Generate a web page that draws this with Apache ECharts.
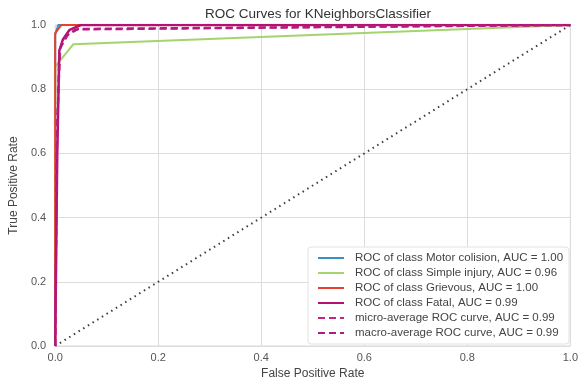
<!DOCTYPE html>
<html>
<head>
<meta charset="utf-8">
<script src="https://cdn.jsdelivr.net/npm/echarts@6/dist/echarts.min.js"></script>
<style>
  html, body { margin: 0; padding: 0; background: #fff; }
  #chart { width: 581px; height: 385px; }
</style>
</head>
<body>
<div id="chart"></div>
<script>
// ROC points as [false positive rate, true positive rate]
const motorCollision = [[0, 0], [0, 0.97], [0.006, 1.0], [1, 1.0]];
const simpleInjury = [[0, 0], [0, 0.87], [0.035, 0.94], [1, 1.0]];
const grievous = [[0, 0], [0, 0.975], [0.012, 1.0], [1, 1.0]];
const fatal = [[0, 0], [0.004, 0.6], [0.008, 0.92], [0.015, 0.955], [0.028, 0.985], [0.05, 1.0], [1, 1.0]];
const microAverage = [[0, 0], [0.004, 0.7], [0.01, 0.93], [0.025, 0.97], [0.045, 0.988], [1, 1.0]];
const macroAverage = [[0, 0], [0.003, 0.6], [0.008, 0.92], [0.02, 0.965], [0.04, 0.986], [1, 1.0]];
const chanceLine = [[0, 0], [1, 1]];

const seriesNames = [
  'ROC of class Motor colision, AUC = 1.00',
  'ROC of class Simple injury, AUC = 0.96',
  'ROC of class Grievous, AUC = 1.00',
  'ROC of class Fatal, AUC = 0.99',
  'micro-average ROC curve, AUC = 0.99',
  'macro-average ROC curve, AUC = 0.99'
];

const chart = echarts.init(document.getElementById('chart'), null, { renderer: 'canvas' });

function curve(name, data, color, type, width, z) {
  return {
    name: name,
    type: 'line',
    data: data,
    symbol: 'none',
    z: z,
    lineStyle: { color: color, width: width, type: type },
    itemStyle: { color: color },
    emphasis: { disabled: true }
  };
}

chart.setOption({
  animation: false,
  backgroundColor: '#ffffff',
  title: {
    text: 'ROC Curves for KNeighborsClassifier',
    left: 313,
    textAlign: 'center',
    top: 2,
    textStyle: { fontFamily: 'Liberation Sans', fontSize: 13.5, fontWeight: 'normal', color: '#333' }
  },
  grid: { left: 54, right: 7, top: 25, bottom: 39, show: true, borderColor: '#d9d9d9', borderWidth: 1, backgroundColor: '#fff' },
  xAxis: {
    type: 'value', min: 0, max: 1, interval: 0.2,
    name: 'False Positive Rate', nameLocation: 'middle', nameGap: 20,
    nameTextStyle: { fontFamily: 'Liberation Sans', fontSize: 12, color: '#444' },
    axisLine: { show: false }, axisTick: { show: false },
    axisLabel: { fontFamily: 'Liberation Sans', fontSize: 11, color: '#555', margin: 6, formatter: v => v.toFixed(1) },
    splitLine: { show: true, lineStyle: { color: '#dcdcdc', width: 1 } }
  },
  yAxis: {
    type: 'value', min: 0, max: 1, interval: 0.2,
    name: 'True Positive Rate', nameLocation: 'middle', nameGap: 31,
    nameTextStyle: { fontFamily: 'Liberation Sans', fontSize: 12, color: '#444' },
    axisLine: { show: false }, axisTick: { show: false },
    axisLabel: { fontFamily: 'Liberation Sans', fontSize: 11, color: '#555', margin: 9, formatter: v => v.toFixed(1) },
    splitLine: { show: true, lineStyle: { color: '#dcdcdc', width: 1 } }
  },
  legend: {
    data: seriesNames,
    orient: 'vertical',
    left: 308, top: 247,
    itemWidth: 26, itemHeight: 13, itemGap: 3,
    padding: [5, 6, 5, 9],
    backgroundColor: '#ffffff',
    borderColor: '#e2e2e2', borderWidth: 1, borderRadius: 3,
    itemStyle: { opacity: 0 },
    textStyle: { fontFamily: 'Liberation Sans', fontSize: 11.5, color: '#444', padding: [0, 0, 0, 6] }
  },
  series: [
    curve(seriesNames[0], motorCollision, '#3a8fc6', 'solid', 2, 3),
    curve(seriesNames[1], simpleInjury, '#a3d46e', 'solid', 2, 3),
    curve(seriesNames[2], grievous, '#e8402c', 'solid', 2, 4),
    curve(seriesNames[3], fatal, '#b4126e', 'solid', 2.5, 5),
    curve(seriesNames[4], microAverage, '#c8237a', [7, 4], 2.2, 6),
    curve(seriesNames[5], macroAverage, '#b01a82', [7, 4], 2.2, 6),
    {
      type: 'line', data: chanceLine, symbol: 'none', silent: true, z: 2,
      lineStyle: { color: '#3d3d3d', width: 2, type: [1.5, 4] }
    }
  ]
});
</script>
</body>
</html>
